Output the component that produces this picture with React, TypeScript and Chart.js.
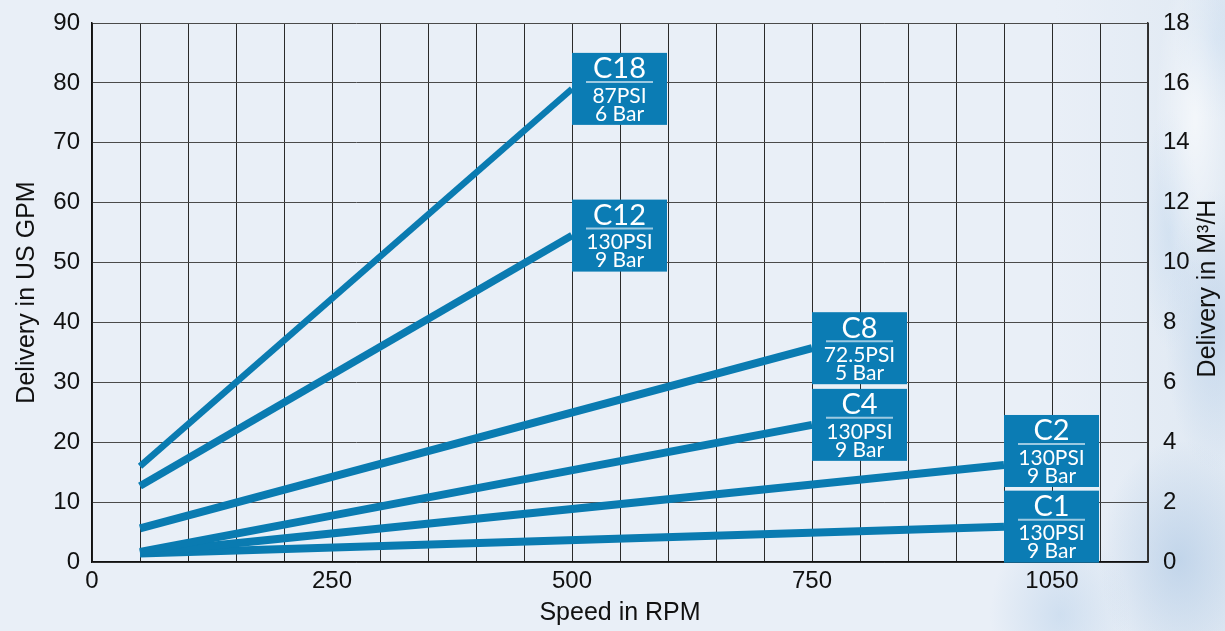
import React, { useEffect, useRef } from 'react';
import { Chart, registerables } from 'chart.js';

Chart.register(...registerables);

// ---- data ----
const seriesNames = ['C18', 'C12', 'C8', 'C4', 'C2', 'C1'];
const pressurePsi = ['87PSI', '130PSI', '72.5PSI', '130PSI', '130PSI', '130PSI'];
const pressureBar = ['6 Bar', '9 Bar', '5 Bar', '9 Bar', '9 Bar', '9 Bar'];
const startRpm = [50, 50, 50, 50, 50, 50];
const endRpm = [500, 500, 750, 750, 950, 950];
const startGpm = [16, 12.7, 5.6, 1.7, 1.5, 1.4];
const endGpm = [79, 54.5, 35.7, 22.9, 16.2, 5.9];
const xTickValues = [0, 250, 500, 750, 1000];
const xTickLabels = ['0', '250', '500', '750', '1050'];

// ---- styles ----
const LINE_BLUE = '#0a7bb1';
const BOX_BLUE = '#0b7cb4';
const lineWidths: Record<string, number> = { C18: 6.5, C12: 7.5, C8: 8, C4: 8, C2: 8, C1: 8 };
const boxNudge: Record<string, number> = { C2: -14 };
const AXIS_FONT = '"Liberation Sans", Arial, Helvetica, sans-serif';
const BOX_FONT = 'Lato, "Open Sans", sans-serif';

const boxPlugin = {
  id: 'seriesBoxes',
  afterDatasetsDraw(chart: any) {
    const ctx = chart.ctx as CanvasRenderingContext2D;
    chart.data.datasets.forEach((ds: any, i: number) => {
      const meta = chart.getDatasetMeta(i);
      const pt = meta.data[meta.data.length - 1];
      if (!pt) return;
      const name = seriesNames[i];
      const W = 95;
      const H = 72;
      const L = pt.x;
      const T = pt.y + (boxNudge[name] || 0) - H / 2;
      ctx.save();
      ctx.fillStyle = BOX_BLUE;
      ctx.fillRect(L, T, W, H);
      ctx.fillStyle = '#ffffff';
      ctx.textAlign = 'center';
      ctx.textBaseline = 'middle';
      const cx = L + W / 2;
      ctx.font = `29px ${BOX_FONT}`;
      ctx.fillText(name, cx, T + 16);
      ctx.strokeStyle = '#9cc9e1';
      ctx.lineWidth = 2;
      ctx.beginPath();
      ctx.moveTo(L + 14, T + 29);
      ctx.lineTo(L + W - 14, T + 29);
      ctx.stroke();
      ctx.font = `21px ${BOX_FONT}`;
      ctx.fillText(pressurePsi[i], cx, T + 43);
      ctx.fillText(pressureBar[i], cx, T + 61);
      ctx.restore();
    });
  },
};

const rightTitlePlugin = {
  id: 'rightTitle',
  afterDraw(chart: any) {
    const ctx = chart.ctx as CanvasRenderingContext2D;
    const area = chart.chartArea;
    ctx.save();
    ctx.translate(1208, (area.top + area.bottom) / 2 - 4);
    ctx.rotate(-Math.PI / 2);
    ctx.fillStyle = '#111';
    ctx.textAlign = 'center';
    ctx.textBaseline = 'middle';
    ctx.font = `25px ${AXIS_FONT}`;
    ctx.fillText('Delivery in M³/H', 0, 0);
    ctx.restore();
  },
};

const noPadV = (w: number) => (s: any) => {
  s.width = w;
  s.paddingTop = 0;
  s.paddingBottom = 0;
};

export default function App() {
  const canvasRef = useRef<HTMLCanvasElement | null>(null);

  useEffect(() => {
    document.body.style.margin = '0';
    const canvas = canvasRef.current;
    if (!canvas) return;

    const datasets = seriesNames.map((name, i) => ({
      label: name,
      data: [
        { x: startRpm[i], y: startGpm[i] },
        { x: endRpm[i], y: endGpm[i] },
      ],
      borderColor: LINE_BLUE,
      backgroundColor: LINE_BLUE,
      borderWidth: lineWidths[name],
      borderCapStyle: 'butt' as const,
      pointRadius: 0,
      fill: false,
      tension: 0,
      yAxisID: 'y',
    }));

    const chart = new Chart(canvas, {
      type: 'line',
      data: { datasets },
      options: {
        animation: false,
        responsive: false,
        devicePixelRatio: 1,
        layout: { padding: { top: 23, left: 0, right: 0, bottom: 0 } },
        plugins: { legend: { display: false }, tooltip: { enabled: false } },
        scales: {
          x: {
            type: 'linear',
            min: 0,
            max: 1100,
            afterFit: (s: any) => {
              s.height = 69;
              s.paddingLeft = 0;
              s.paddingRight = 0;
            },
            border: { display: true, color: '#111', width: 1.5 },
            grid: { color: '#2a2a2a', lineWidth: 1, drawTicks: false },
            ticks: {
              stepSize: 50,
              autoSkip: false,
              maxRotation: 0,
              padding: 5,
              color: '#111',
              font: { family: AXIS_FONT, size: 24 },
              callback: (v: any) => {
                const k = xTickValues.indexOf(Number(v));
                return k >= 0 ? xTickLabels[k] : '';
              },
            },
            title: {
              display: true,
              text: 'Speed in RPM',
              color: '#111',
              font: { family: AXIS_FONT, size: 25 },
              padding: { top: 0, bottom: 3 },
            },
          },
          y: {
            type: 'linear',
            position: 'left',
            min: 0,
            max: 90,
            afterFit: noPadV(92),
            border: { display: true, color: '#111', width: 1.5 },
            grid: { color: '#4a4a4a', lineWidth: 1, drawTicks: false },
            ticks: {
              stepSize: 10,
              padding: 12,
              color: '#111',
              font: { family: AXIS_FONT, size: 24 },
            },
            title: {
              display: true,
              text: 'Delivery in US GPM',
              color: '#111',
              font: { family: AXIS_FONT, size: 25 },
              padding: { top: 12, bottom: 0 },
            },
          },
          y1: {
            type: 'linear',
            position: 'right',
            min: 0,
            max: 18,
            afterFit: noPadV(77),
            border: { display: true, color: '#333', width: 1.5 },
            grid: { display: false, drawTicks: false },
            ticks: {
              stepSize: 2,
              padding: 15,
              color: '#111',
              font: { family: AXIS_FONT, size: 24 },
            },
          },
        },
      },
      plugins: [boxPlugin, rightTitlePlugin],
    });

    return () => chart.destroy();
  }, []);

  const bg = [
    'radial-gradient(ellipse 40px 160px at 1195px 120px, rgba(255,255,255,0.6), rgba(255,255,255,0))',
    'radial-gradient(ellipse 50px 140px at 1215px 330px, rgba(185,208,233,0.65), rgba(185,208,233,0))',
    'radial-gradient(ellipse 80px 120px at 1180px 560px, rgba(180,204,230,0.7), rgba(180,204,230,0))',
    'radial-gradient(ellipse 70px 90px at 1060px 615px, rgba(190,212,235,0.6), rgba(190,212,235,0))',
    'radial-gradient(ellipse 30px 120px at 1170px 230px, rgba(200,219,239,0.6), rgba(200,219,239,0))',
    'radial-gradient(ellipse 40px 80px at 1215px 40px, rgba(200,219,239,0.6), rgba(200,219,239,0))',
    'linear-gradient(90deg, #e9eff7 0%, #e9eff7 86%, #e0e9f3 100%)',
  ].join(', ');

  return (
    <div
      style={{
        position: 'fixed',
        left: 0,
        top: 0,
        width: 1225,
        height: 631,
        background: bg,
      }}
    >
      <canvas ref={canvasRef} width={1225} height={631} style={{ display: 'block', width: 1225, height: 631 }} />
    </div>
  );
}
